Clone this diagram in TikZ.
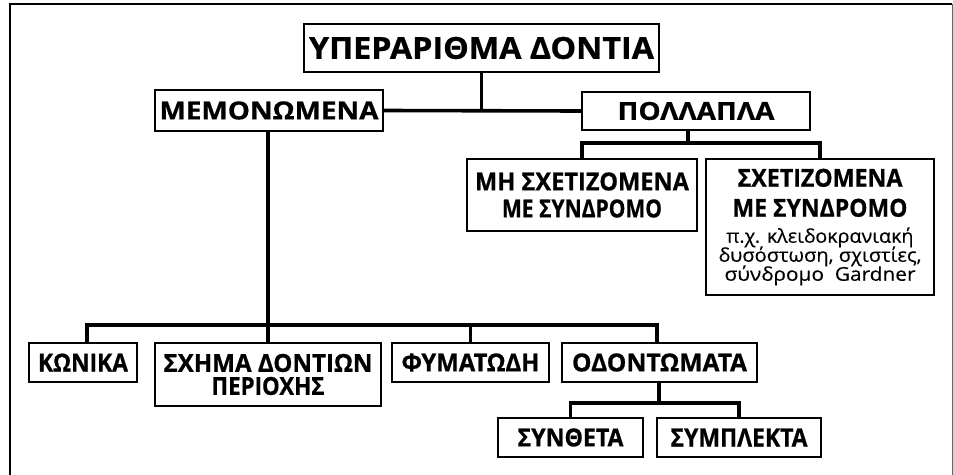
\documentclass[tikz,border=0pt]{standalone}
\usepackage{fontspec}
\usepackage{graphicx}
\setmainfont{Open Sans}[BoldFeatures={FakeBold=0.7},UprightFeatures={FakeBold=0.3}]
\newcommand{\fw}[2]{\resizebox{#1pt}{18pt}{#2}}
\newcommand{\fs}[2]{\resizebox{#1pt}{\height}{\sm #2}}
\newcommand{\sm}{\mdseries\fontsize{19}{20}\selectfont}
\begin{document}
\begin{tikzpicture}[x=1pt,y=-1pt,
  box/.style={draw=black,line width=1.7pt,inner sep=0pt,align=center},
  big/.style={font=\bfseries\fontsize{31}{33}\selectfont},
  mid/.style={font=\bfseries\fontsize{24}{27}\selectfont},
  conn/.style={line width=3.6pt,line cap=butt,line join=miter},
  frame/.style={line width=2.6pt}]
\useasboundingbox (0,0) rectangle (953,474);
\newcommand{\bx}[7]{\node[box,#7,minimum width={#4-#2},minimum height={#5-#3}] (#1) at ({(#2+#4)/2},{(#3+#5)/2}) {#6};}
% frame
\draw[frame] (10,480) -- (10,4) -- (952,4);
\draw[line width=1pt,black!60] (952,4) -- (952,480);
% boxes
\bx{root}{304}{24}{659}{72}{\resizebox{345pt}{22pt}{ΥΠΕΡΑΡΙΘΜΑ ΔΟΝΤΙΑ}}{big}
\bx{memo}{155}{90}{383}{131}{\fw{219}{ΜΕΜΟΝΩΜΕΝΑ}}{mid}
\bx{poll}{582}{92}{810}{130}{\fw{157}{ΠΟΛΛΑΠΛΑ}}{mid}
\bx{mhs}{467}{159}{697}{231}{\fw{214}{ΜΗ ΣΧΕΤΙΖΟΜΕΝΑ}\\\fw{160}{ΜΕ ΣΥΝΔΡΟΜΟ}}{mid}
\bx{sxe}{706}{159}{934}{295}{\fw{165}{ΣΧΕΤΙΖΟΜΕΝΑ}\\[3pt]\fw{175}{ΜΕ ΣΥΝΔΡΟΜΟ}\\[-1pt]\fs{187}{π.χ. κλειδοκρανιακή}\\[-8pt]\fs{203}{δυσόστωση, σχιστίες,}\\[-8pt]\fs{191}{σύνδρομο\ \ Gardner}}{mid}
\bx{kon}{29}{343}{137}{382}{\fw{90}{ΚΩΝΙΚΑ}}{mid}
\bx{sxh}{155}{343}{381}{406}{\fw{209}{ΣΧΗΜΑ ΔΟΝΤΙΩΝ}\\[-4pt]\fw{113}{ΠΕΡΙΟΧΗΣ}}{mid}
\bx{fym}{392}{343}{549}{382}{\fw{138}{ΦΥΜΑΤΩΔΗ}}{mid}
\bx{odo}{562}{343}{757}{382}{\fw{175}{ΟΔΟΝΤΩΜΑΤΑ}}{mid}
\bx{syn}{498}{418}{643}{457}{\fw{106}{ΣΥΝΘΕΤΑ}}{mid}
\bx{sym}{657}{418}{821}{457}{\fw{137}{ΣΥΜΠΛΕΚΤΑ}}{mid}
% connectors
\draw[conn] (root.south) -- (root.south |- memo.east);
\draw[conn] (memo.east) -- (poll.west);
\coordinate (j1) at (688,143);
\draw[conn] (j1 |- poll.south) -- (j1);
\draw[conn] (mhs.north) |- (j1) -| (sxe.north);
\coordinate (j2) at (268,325);
\draw[conn] (j2 |- memo.south) -- (j2);
\coordinate (k2) at (87,325);
\coordinate (k3) at (657,325);
\draw[conn] (k2 |- kon.north) -- (k2) -- (k3) -- (k3 |- odo.north);
\draw[conn] (j2) -- (sxh.north);
\draw[conn] (fym.north) -- (fym.north |- j2);
\coordinate (j3) at (659,403);
\draw[conn] (j3 |- odo.south) -- (j3);
\draw[conn] (syn.north) |- (j3) -| (sym.north);
\end{tikzpicture}
\end{document}
